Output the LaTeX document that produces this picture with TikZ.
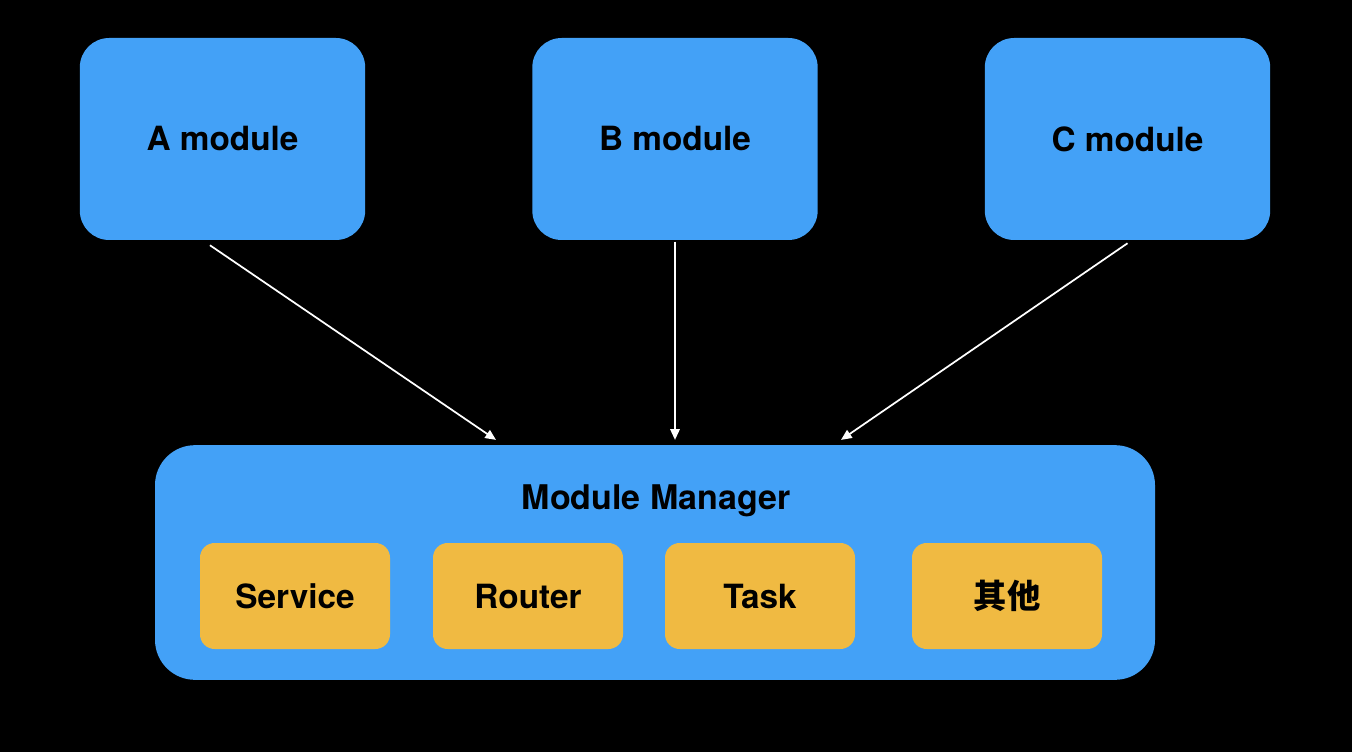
\documentclass[tikz,border=0pt]{standalone}
\usepackage{fontspec}
\setmainfont{TeX Gyre Heros}
\newfontfamily\cjk{Noto Sans CJK SC}
\usetikzlibrary{calc,arrows.meta}
\definecolor{modblue}{HTML}{43A1F7}
\definecolor{partorange}{HTML}{F0BA42}

\tikzset{
  module/.style={fill=modblue,rounded corners=22pt,minimum width=214pt,minimum height=151.5pt,
    font=\fontsize{25}{30}\selectfont\bfseries},
  mgr/.style={fill=modblue,rounded corners=30pt,minimum width=750pt,minimum height=176pt},
  part/.style={fill=partorange,rounded corners=11pt,minimum width=142.5pt,minimum height=79.5pt,
    font=\fontsize{25}{30}\selectfont\bfseries},
  arr/.style={draw=white,line width=1.3pt,-{Triangle[length=8pt,width=7pt]}}
}

\begin{document}
\begin{tikzpicture}[x=0.75pt,y=-0.75pt]
    \fill[black] (0,0) rectangle (1352,752);
    \useasboundingbox (0,0) rectangle (1352,752);
        % upper modules
        \node[module] (A) at (222.5,139) {A module};
        \node[module] (B) at (675,139) {B module};
        \node[module] (C) at (1127.5,139) {C module};
        % manager with its parts
        \node[mgr] (M) at (655,562.5) {};
        \node[font=\fontsize{25.5}{30}\selectfont\bfseries] (Mlabel) at (656,501) {Module Manager};
        \node[part] (service) at (295,596) {Service};
        \node[part] (router) at (528,596) {Router};
        \node[part] (task) at (760,596) {Task};
        \node[part] (other) at (1007,596) {\cjk\bfseries 其他};
        % arrows
        \draw[arr] ([xshift=-9.4pt,yshift=-3.75pt]A.south) -- ([xshift=-119.25pt,yshift=3.75pt]M.north);
        \draw[arr] ([yshift=-1pt]B.south) -- ([xshift=15pt,yshift=3.75pt]M.north);
        \draw[arr] ([yshift=-2.25pt]C.south) -- ([xshift=139.5pt,yshift=3.75pt]M.north);
    \end{tikzpicture}
\end{document}
